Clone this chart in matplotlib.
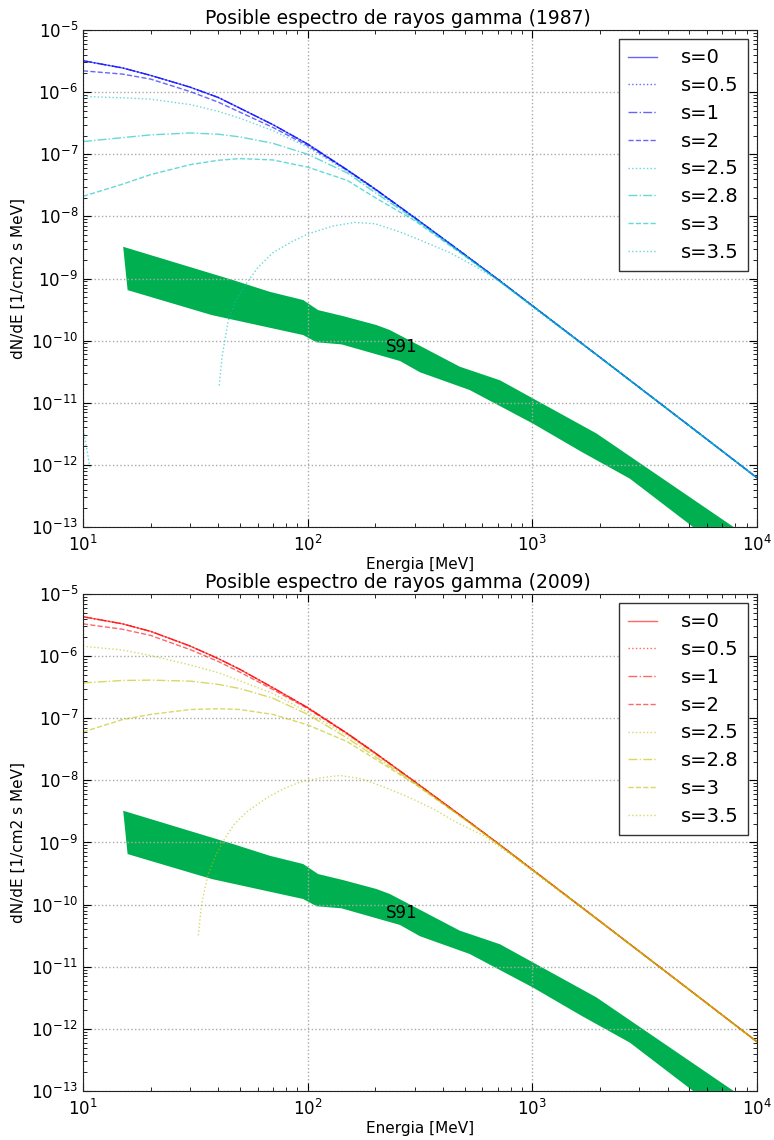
import matplotlib
matplotlib.use("Agg")
import matplotlib.pyplot as plt

# ---------------- data ----------------
E_main = [10, 15, 20, 30, 40, 50, 70, 100, 150, 200, 300, 500, 700, 1000, 2000, 5000, 10000]

# 1987 panel
top_s0 = [3.2e-6, 2.45e-6, 1.86e-6, 1.2e-6, 8.2e-7, 5.5e-7, 3.0e-7, 1.46e-7, 5.6e-8, 2.75e-8,
          9.5e-9, 2.43e-9, 9.8e-10, 3.66e-10, 5.4e-11, 4.26e-12, 6.2e-13]
top_s05 = top_s0
top_s1 = top_s0
top_s2 = [2.2e-6, 1.95e-6, 1.62e-6, 1.02e-6, 6.9e-7, 4.75e-7, 2.7e-7, 1.38e-7, 5.5e-8, 2.7e-8,
          9.4e-9, 2.42e-9, 9.8e-10, 3.66e-10, 5.4e-11, 4.26e-12, 6.2e-13]
top_s25 = [8.5e-7, 8.1e-7, 7.7e-7, 6.3e-7, 4.9e-7, 3.8e-7, 2.4e-7, 1.3e-7, 5.3e-8, 2.6e-8,
           9.3e-9, 2.4e-9, 9.7e-10, 3.65e-10, 5.4e-11, 4.26e-12, 6.2e-13]
top_s28 = [1.6e-7, 1.85e-7, 2.05e-7, 2.2e-7, 2.1e-7, 1.9e-7, 1.5e-7, 1.0e-7, 5.0e-8, 2.4e-8,
           9.0e-9, 2.35e-9, 9.6e-10, 3.64e-10, 5.4e-11, 4.26e-12, 6.2e-13]
top_s3 = [2.1e-8, 3.3e-8, 4.7e-8, 6.8e-8, 8.0e-8, 8.5e-8, 8.1e-8, 6.2e-8, 3.8e-8, 2.0e-8,
          8.5e-9, 2.3e-9, 9.5e-10, 3.62e-10, 5.4e-11, 4.26e-12, 6.2e-13]
top_E35 = [40.4, 41.6, 44.3, 48, 53.6, 60, 70, 85, 100, 130, 162, 200, 258, 330, 430, 560, 720,
           1000, 2000, 5000, 10000]
top_s35 = [1.9e-11, 5.5e-11, 2.1e-10, 4.5e-10, 8.5e-10, 1.5e-9, 2.6e-9, 3.9e-9, 5.2e-9, 7.0e-9,
           8.0e-9, 7.6e-9, 5.6e-9, 3.9e-9, 2.6e-9, 1.55e-9, 8.9e-10, 3.5e-10, 5.3e-11, 4.2e-12, 6.1e-13]
top_E35b = [10.1, 10.4, 10.75]
top_s35b = [3.2e-12, 1.8e-12, 8.9e-13]

# 2009 panel
bot_s0 = [4.3e-6, 3.3e-6, 2.5e-6, 1.45e-6, 9.1e-7, 6.1e-7, 3.1e-7, 1.48e-7, 5.7e-8, 2.75e-8,
          9.5e-9, 2.43e-9, 9.8e-10, 3.66e-10, 5.4e-11, 4.26e-12, 6.2e-13]
bot_s05 = bot_s0
bot_s1 = bot_s0
bot_s2 = [3.3e-6, 2.7e-6, 2.15e-6, 1.27e-6, 8.2e-7, 5.5e-7, 2.9e-7, 1.43e-7, 5.6e-8, 2.7e-8,
          9.4e-9, 2.42e-9, 9.8e-10, 3.66e-10, 5.4e-11, 4.26e-12, 6.2e-13]
bot_s25 = [1.44e-6, 1.25e-6, 1.02e-6, 7.2e-7, 5.4e-7, 4.0e-7, 2.5e-7, 1.25e-7, 5.3e-8, 2.6e-8,
           9.3e-9, 2.4e-9, 9.7e-10, 3.65e-10, 5.4e-11, 4.26e-12, 6.2e-13]
bot_s28 = [3.7e-7, 4.05e-7, 4.1e-7, 3.95e-7, 3.5e-7, 3.0e-7, 2.1e-7, 1.15e-7, 4.8e-8, 2.4e-8,
           9.0e-9, 2.35e-9, 9.6e-10, 3.64e-10, 5.4e-11, 4.26e-12, 6.2e-13]
bot_s3 = [6.0e-8, 9.5e-8, 1.15e-7, 1.38e-7, 1.42e-7, 1.38e-7, 1.15e-7, 7.8e-8, 4.2e-8, 2.2e-8,
          8.7e-9, 2.35e-9, 9.6e-10, 3.62e-10, 5.4e-11, 4.26e-12, 6.2e-13]
bot_E35 = [32.6, 33.2, 33.7, 36, 39, 42.1, 47, 53.5, 65.7, 78, 92.5, 115, 139, 175, 216.6, 280, 361,
           460, 605, 800, 1006, 2000, 5000, 10000]
bot_s35 = [3.2e-11, 6.0e-11, 1.0e-10, 3.0e-10, 6.2e-10, 1.05e-9, 1.95e-9, 3.1e-9, 5.2e-9, 7.3e-9,
           9.4e-9, 1.1e-8, 1.2e-8, 1.05e-8, 7.9e-9, 5.4e-9, 3.5e-9, 2.1e-9, 1.3e-9, 6.4e-10,
           3.4e-10, 5.3e-11, 4.2e-12, 6.1e-13]

# S91 band (upper and lower edges)
band_E_up = [15.1, 46.7, 67.9, 95.5, 111.4, 143.9, 202.6, 232.3, 476, 718, 1932, 7570, 10000]
band_up = [3.24e-9, 9.4e-10, 6.1e-10, 4.5e-10, 3.1e-10, 2.48e-10, 1.78e-10, 1.48e-10, 3.8e-11,
           2.3e-11, 3.2e-12, 1.1e-13, 5.7e-14]
band_E_lo = [15.8, 37.4, 95.5, 109.6, 141.6, 257.6, 316, 527, 1009, 1657, 2718, 5020, 10000]
band_lo = [6.5e-10, 2.58e-10, 1.23e-10, 9.4e-11, 8.7e-11, 4.7e-11, 3.1e-11, 1.6e-11, 4.6e-12,
           1.62e-12, 6.0e-13, 1.1e-13, 1.65e-14]

labels = ["s=0", "s=0.5", "s=1", "s=2", "s=2.5", "s=2.8", "s=3", "s=3.5"]
styles = ["-", ":", "-.", "--", ":", "-.", "--", ":"]
titles = ["Posible espectro de rayos gamma (1987)", "Posible espectro de rayos gamma (2009)"]

# ---------------- plotting ----------------
plt.rcParams['font.family'] = ['DejaVu Sans']
fig = plt.figure(figsize=(7.74, 11.4), dpi=100)

panels = [
    dict(rect=[0.1072, 0.5377, 0.8708, 0.436], title=titles[0], c1='b', c2='c',
         E=[E_main]*7 + [top_E35],
         V=[top_s0, top_s05, top_s1, top_s2, top_s25, top_s28, top_s3, top_s35],
         extra=(top_E35b, top_s35b), txt=(222, 7.9e-11)),
    dict(rect=[0.1072, 0.0430, 0.8708, 0.436], title=titles[1], c1='r', c2='y',
         E=[E_main]*7 + [bot_E35],
         V=[bot_s0, bot_s05, bot_s1, bot_s2, bot_s25, bot_s28, bot_s3, bot_s35],
         extra=None, txt=(222, 7.2e-11)),
]

for p in panels:
    ax = fig.add_axes(p['rect'])
    for i, (E, V) in enumerate(zip(p['E'], p['V'])):
        col = p['c1'] if i < 4 else p['c2']
        ax.plot(E, V, linestyle=styles[i], color=col, alpha=0.6, lw=1.0, label=labels[i])
    if p['extra'] is not None:
        ax.plot(p['extra'][0], p['extra'][1], linestyle=':', color=p['c2'], alpha=0.6, lw=1.0)
    xs = list(band_E_up) + list(band_E_lo[::-1])
    ys = list(band_up) + list(band_lo[::-1])
    ax.fill(xs, ys, color='#00b050', lw=0, zorder=1)
    ax.text(p['txt'][0], p['txt'][1], "S91", fontsize=12, ha='left', va='center')
    ax.set_xscale('log')
    ax.set_yscale('log')
    ax.set_xlim(10, 1e4)
    ax.set_ylim(1e-13, 1e-5)
    ax.grid(True, which='major', linestyle=':', color='#aaaaaa', lw=1.0)
    ax.tick_params(which='both', direction='in', top=True, right=True, labelsize=12)
    ax.tick_params(axis='x', which='major', pad=6)
    ax.tick_params(which='major', length=6)
    ax.tick_params(which='minor', length=3)
    ax.set_xlabel("Energia [MeV]", fontsize=11, labelpad=1)
    ax.set_ylabel("dN/dE [1/cm2 s MeV]", fontsize=11)
    ax.set_title(p['title'], fontsize=13.5, pad=4, x=0.467)
    for sp in ax.spines.values():
        sp.set_color('#222222')
    leg = ax.legend(loc='upper right', fontsize=14, fancybox=False, framealpha=1,
                    edgecolor='#333333', borderaxespad=0.45, handlelength=1.5,
                    handletextpad=1.2, labelspacing=0.45, borderpad=0.5)
    leg.get_frame().set_linewidth(1.0)

fig.savefig("out.png", dpi=100, facecolor='white')
